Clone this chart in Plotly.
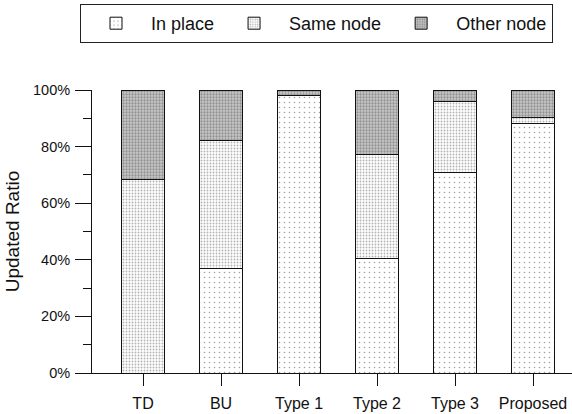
import plotly.graph_objects as go

categories = ["TD", "BU", "Type 1", "Type 2", "Type 3", "Proposed"]
in_place = [0.0, 36.8, 98.2, 40.6, 70.8, 88.2]
same_node = [68.5, 45.5, 0.0, 36.5, 25.1, 2.0]
other_node = [31.5, 17.7, 1.8, 22.9, 4.1, 9.8]
series_names = ["In place", "Same node", "Other node"]
y_tick_vals = [0, 0.2, 0.4, 0.6, 0.8, 1.0]

FONT = "Liberation Sans, Arial, sans-serif"

patterns = [
    dict(shape=".", size=5, solidity=0.08, fgcolor="#444", bgcolor="white", fillmode="overlay"),
    dict(shape=".", size=3, solidity=0.3, fgcolor="#666", bgcolor="white", fillmode="overlay"),
    dict(shape=".", size=3, solidity=0.45, fgcolor="#5a5a5a", bgcolor="#c8c8c8", fillmode="overlay"),
]

fig = go.Figure()
for name, vals, pat in zip(series_names, [in_place, same_node, other_node], patterns):
    fig.add_trace(go.Bar(
        x=list(range(len(categories))),
        y=[v / 100 for v in vals],
        name=name,
        width=0.56,
        marker=dict(color="white", pattern=pat, line=dict(color="#111", width=1)),
    ))

fig.update_layout(
    barmode="stack",
    width=572, height=414,
    margin=dict(l=92, r=0, t=90, b=41, autoexpand=False),
    paper_bgcolor="white", plot_bgcolor="white",
    font=dict(family=FONT, color="#111"),
    legend=dict(
        orientation="h",
        xref="container", yref="container",
        x=80 / 572, y=1 - 4 / 414, xanchor="left", yanchor="top",
        bordercolor="#222", borderwidth=1,
        font=dict(size=18, family=FONT),
        itemwidth=60,
        traceorder="normal",
    ),
    xaxis=dict(
        range=[-0.654, 5.5],
        tickmode="array",
        tickvals=list(range(len(categories))),
        ticktext=categories,
        showline=True, linecolor="#111", linewidth=1,
        ticks="outside", ticklen=12, tickcolor="#111",
        tickfont=dict(size=16),
        ticklabelstandoff=4,
        showgrid=False, zeroline=False,
    ),
    yaxis=dict(
        range=[0, 1],
        tickmode="array",
        tickvals=y_tick_vals,
        tickformat=".0%",
        showline=True, linecolor="#111", linewidth=1,
        ticks="outside", ticklen=16, tickcolor="#111",
        tickfont=dict(size=14.5),
        ticklabelstandoff=2,
        minor=dict(ticks="outside", ticklen=8, dtick=0.1, tickcolor="#111", showgrid=False),
        showgrid=False, zeroline=False,
        title=dict(text="Updated Ratio", font=dict(size=19), standoff=8),
    ),
)

fig.write_html("out.html", config={"displayModeBar": False},
               post_script="document.body.style.margin='0';")
